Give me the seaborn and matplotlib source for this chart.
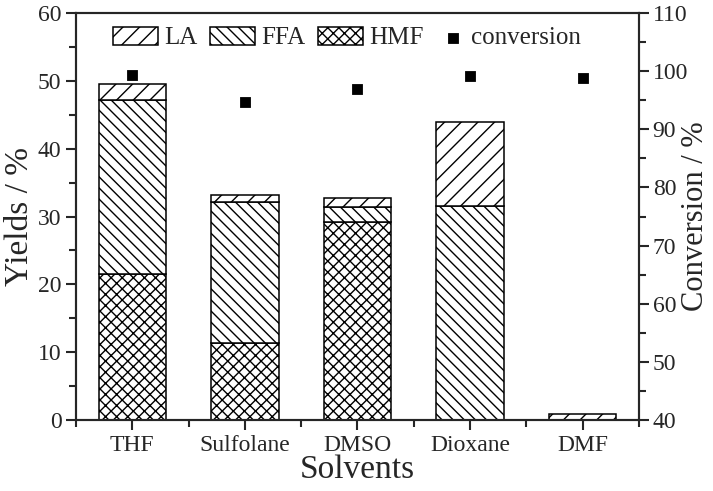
import pandas as pd
import numpy as np
import matplotlib
matplotlib.use("Agg")
import matplotlib.pyplot as plt
import seaborn as sns
from matplotlib.ticker import MultipleLocator

solvents = ["THF", "Sulfolane", "DMSO", "Dioxane", "DMF"]
hmf = [21.5, 11.4, 29.2, 0.0, 0.0]
ffa = [25.7, 20.8, 2.2, 31.6, 0.0]
la = [2.3, 1.0, 1.3, 12.3, 0.95]
conversion = [99.3, 94.7, 96.9, 99.2, 98.9]

df = pd.DataFrame({"Solvent": solvents, "HMF": hmf, "FFA": ffa, "LA": la,
                   "conversion": conversion})

sns.set_style("ticks")
plt.rcParams["font.family"] = ["Liberation Serif", "DejaVu Serif"]
plt.rcParams["hatch.color"] = "black"
plt.rcParams["hatch.linewidth"] = 1.0
plt.rcParams["axes.linewidth"] = 1.5

fig = plt.figure(figsize=(7.13, 4.91), dpi=100)
ax = fig.add_axes([0.1066, 0.1446, 0.7894, 0.8289])

bar_kw = dict(color="white", edgecolor="black", linewidth=1.1, width=0.6,
              order=solvents, ax=ax)
base1 = df["HMF"].values
base2 = base1 + df["FFA"].values
sns.barplot(data=df, x="Solvent", y="HMF", hatch="xxx", label="HMF", **bar_kw)
sns.barplot(data=df, x="Solvent", y="FFA", bottom=base1, hatch="\\\\\\",
            label="FFA", **bar_kw)
sns.barplot(data=df, x="Solvent", y="LA", bottom=base2, hatch="//",
            label="LA", **bar_kw)

ax.set_xlim(-0.5, 4.5)
ax.set_ylim(0, 60)
ax.yaxis.set_major_locator(MultipleLocator(10))
ax.yaxis.set_minor_locator(MultipleLocator(5))
ax.xaxis.set_minor_locator(MultipleLocator(1, offset=0.5))
ax.tick_params(axis="both", which="major", labelsize=17, length=7, width=1.5,
               direction="out")
ax.tick_params(axis="both", which="minor", length=5, width=1.5, direction="out")
ax.set_xlabel("Solvents", fontsize=24, labelpad=-1)
ax.set_ylabel("Yields / %", fontsize=24, labelpad=2)

ax2 = ax.twinx()
sns.scatterplot(data=df, x="Solvent", y="conversion", marker="s", s=56,
                color="black", edgecolor="black", label="conversion", ax=ax2,
                legend=False)
ax2.set_ylim(40, 110)
ax2.yaxis.set_major_locator(MultipleLocator(10))
ax2.yaxis.set_minor_locator(MultipleLocator(5))
ax2.tick_params(axis="y", which="major", labelsize=17, length=7, width=1.5,
                pad=3)
ax2.tick_params(axis="y", which="minor", length=5, width=1.5)
ax2.set_ylabel("Conversion / %", fontsize=22, labelpad=-5)
ax2.set_xlim(-0.5, 4.5)
for s in ax2.spines.values():
    s.set_linewidth(1.5)

h1, l1 = ax.get_legend_handles_labels()
h2, l2 = ax2.get_legend_handles_labels()
if ax.get_legend() is not None:
    ax.get_legend().remove()
hd = dict(zip(l1 + l2, h1 + h2))

leg_kw = dict(frameon=False, fontsize=18, handleheight=0.75,
              handletextpad=0.25, borderpad=0, borderaxespad=0,
              loc="center left", bbox_transform=fig.transFigure)
bars = ["LA", "FFA", "HMF"]
leg1 = ax2.legend([hd[n] for n in bars], bars, ncol=3, handlelength=1.8,
                  columnspacing=0.5, bbox_to_anchor=(113 / 713, 1 - 38 / 491),
                  **leg_kw)
ax2.add_artist(leg1)
ax2.legend([hd["conversion"]], ["conversion"], handlelength=0.95,
           bbox_to_anchor=(441 / 713, 1 - 38 / 491), **leg_kw)

fig.savefig("out.png", dpi=100)
